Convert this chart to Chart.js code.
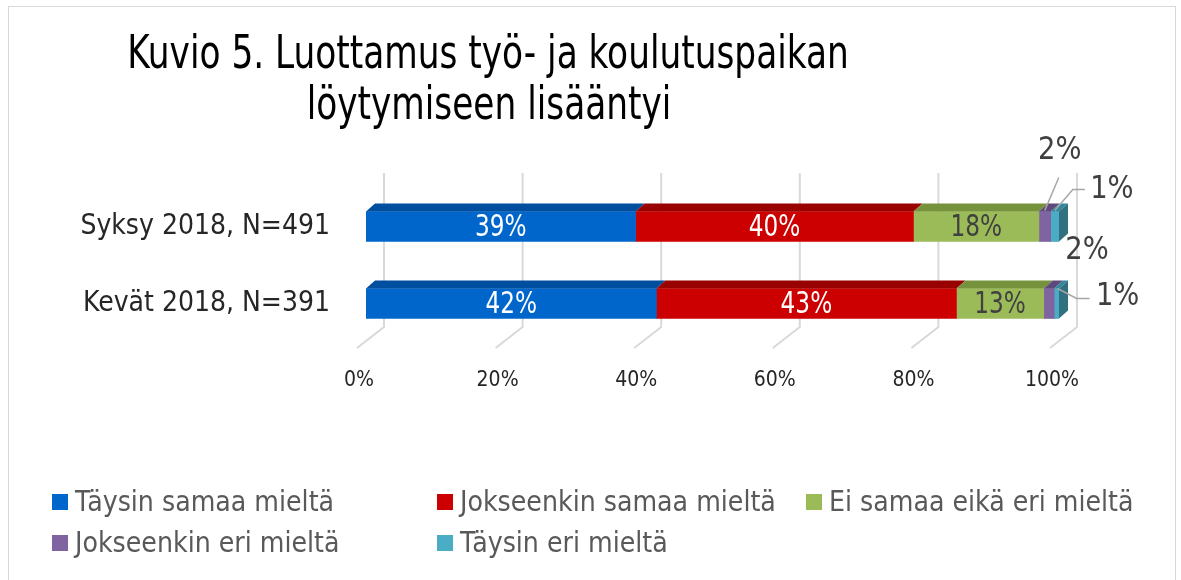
<!DOCTYPE html>
<html>
<head>
<meta charset="utf-8">
<script src="https://cdn.jsdelivr.net/npm/chart.js@4"></script>
<style>
html, body { margin: 0; padding: 0; background: #fff; }
</style>
</head>
<body>
<canvas id="chart" width="1181" height="580"></canvas>
<script>
// data (percent of respondents)
var categories = ['Syksy 2018, N=491', 'Kevät 2018, N=391'];
var seriesNames = ['Täysin samaa mieltä', 'Jokseenkin samaa mieltä', 'Ei samaa eikä eri mieltä', 'Jokseenkin eri mieltä', 'Täysin eri mieltä'];
var taysinSamaa = [38.9, 41.9];
var jokseenkinSamaa = [40.1, 43.3];
var eiSamaaEiEri = [18.1, 12.6];
var jokseenkinEri = [1.7, 1.5];
var taysinEri = [1.2, 0.7];
var xTicks = [0, 20, 40, 60, 80, 100];
var titleLines = ['Kuvio 5. Luottamus työ- ja koulutuspaikan', 'löytymiseen lisääntyi'];

var FONT = '"Liberation Sans Narrow", "DejaVu Sans Condensed", sans-serif';
var frontColors = ['#0066cc', '#cc0000', '#9bbb59', '#8064a2', '#4bacc6'];
var topColors = ['#004f9e', '#990000', '#76923c', '#5f497a', '#31859c'];
var sideColor = '#31707f';
var depthX = 9, depthY = 8;

// small segments get their label outside, with a leader line (offsets from segment centre / bar top)
var outside = {
  '3-0': { dx: 15, dy: -61, line: [[0, -1], [14, -34]] },
  '3-1': { dx: 38, dy: -38 },
  '4-0': { dx: 57, dy: -22, line: [[0, -1], [18, -22], [30, -22]] },
  '4-1': { dx: 61, dy: 8, line: [[1, 0], [20, 10], [33, 10]] }
};

// the original font is narrower than what is installed, so squeeze text sideways
function narrowText(ctx, txt, x, y, sx) {
  ctx.save();
  ctx.translate(x, y);
  ctx.scale(sx, 1);
  ctx.fillText(txt, 0, 0);
  ctx.restore();
}

var bar3d = {
  id: 'bar3d',
  beforeDatasetsDraw: function (chart) {
    var ctx = chart.ctx, xs = chart.scales.x, a = chart.chartArea;
    ctx.save();
    ctx.strokeStyle = '#d9d9d9';
    ctx.lineWidth = 2;
    xTicks.forEach(function (v) {
      var px = xs.getPixelForValue(v);
      ctx.beginPath();
      ctx.moveTo(px + 18, a.top - 15);
      ctx.lineTo(px + 18, a.bottom - 15);
      ctx.lineTo(px - 9, a.bottom + 6);
      ctx.stroke();
    });
    ctx.restore();
  },
  afterDatasetsDraw: function (chart) {
    var ctx = chart.ctx;
    var n = chart.data.datasets.length;
    ctx.save();
    for (var d = 0; d < n; d++) {
      var meta = chart.getDatasetMeta(d);
      meta.data.forEach(function (el) {
        var p = el.getProps(['x', 'y', 'base', 'height'], true);
        var top = p.y - p.height / 2, bot = p.y + p.height / 2;
        ctx.fillStyle = topColors[d];
        ctx.beginPath();
        ctx.moveTo(p.base, top);
        ctx.lineTo(p.base + depthX, top - depthY);
        ctx.lineTo(p.x + depthX, top - depthY);
        ctx.lineTo(p.x, top);
        ctx.closePath();
        ctx.fill();
        if (d === n - 1) {
          ctx.fillStyle = sideColor;
          ctx.beginPath();
          ctx.moveTo(p.x, top);
          ctx.lineTo(p.x + depthX, top - depthY);
          ctx.lineTo(p.x + depthX, bot - depthY);
          ctx.lineTo(p.x, bot);
          ctx.closePath();
          ctx.fill();
        }
      });
    }
    // value labels
    ctx.textAlign = 'center';
    ctx.textBaseline = 'middle';
    for (var d2 = 0; d2 < n; d2++) {
      var ds = chart.data.datasets[d2];
      chart.getDatasetMeta(d2).data.forEach(function (el, i) {
        var p = el.getProps(['x', 'y', 'base', 'height'], true);
        var txt = Math.round(ds.data[i]) + '%';
        var cx = (p.base + p.x) / 2;
        var top = p.y - p.height / 2;
        var o = outside[d2 + '-' + i];
        if (!o) {
          ctx.font = '30px ' + FONT;
          ctx.fillStyle = d2 === 2 ? '#404040' : '#ffffff';
          narrowText(ctx, txt, cx, p.y + 2, 0.86);
          return;
        }
        if (o.line) {
          ctx.strokeStyle = '#a6a6a6';
          ctx.lineWidth = 1.5;
          ctx.beginPath();
          o.line.forEach(function (pt, k) {
            if (k === 0) ctx.moveTo(cx + pt[0], top + pt[1]);
            else ctx.lineTo(cx + pt[0], top + pt[1]);
          });
          ctx.stroke();
        }
        ctx.font = '32px ' + FONT;
        ctx.fillStyle = '#404040';
        narrowText(ctx, txt, cx + o.dx, top + o.dy, 0.95);
      });
    }
    ctx.restore();
  }
};

var decor = {
  id: 'decor',
  afterDraw: function (chart) {
    var ctx = chart.ctx;
    ctx.save();
    // frame
    ctx.strokeStyle = '#d9d9d9';
    ctx.lineWidth = 1;
    ctx.strokeRect(8.5, 6.5, 1167, 600);
    // title
    ctx.fillStyle = '#000000';
    ctx.font = '46px ' + FONT;
    ctx.textAlign = 'center';
    ctx.textBaseline = 'alphabetic';
    narrowText(ctx, titleLines[0], 488, 68, 0.83);
    narrowText(ctx, titleLines[1], 489, 119, 0.83);
    // legend in a fixed grid
    var colX = [52, 437, 806], rowY = [502, 543];
    ctx.font = '29px ' + FONT;
    ctx.textAlign = 'left';
    ctx.textBaseline = 'middle';
    chart.data.datasets.forEach(function (ds, k) {
      var x = colX[k % 3], y = rowY[Math.floor(k / 3)];
      ctx.fillStyle = ds.backgroundColor;
      ctx.fillRect(x, y - 8, 16, 16);
      ctx.fillStyle = '#595959';
      narrowText(ctx, ds.label, x + 23, y + 1, 0.97);
    });
    ctx.restore();
  }
};

var seriesData = [taysinSamaa, jokseenkinSamaa, eiSamaaEiEri, jokseenkinEri, taysinEri];

new Chart(document.getElementById('chart'), {
  type: 'bar',
  data: {
    labels: categories,
    datasets: seriesNames.map(function (name, k) {
      return {
        label: name,
        data: seriesData[k],
        backgroundColor: frontColors[k],
        borderWidth: 0,
        barThickness: 30
      };
    })
  },
  options: {
    indexAxis: 'y',
    responsive: false,
    animation: false,
    layout: { padding: { top: 188, right: 122, left: 0, bottom: 0 } },
    plugins: {
      legend: { display: false },
      tooltip: { enabled: false },
      title: { display: false }
    },
    scales: {
      x: {
        stacked: true,
        min: 0,
        max: 100,
        afterBuildTicks: function (scale) {
          scale.ticks = xTicks.map(function (v) { return { value: v }; });
        },
        afterFit: function (scale) { scale.height = 238; },
        grid: { display: false, drawTicks: false },
        border: { display: false },
        ticks: {
          padding: 26,
          labelOffset: -7,
          color: '#262626',
          font: { family: FONT, size: 21 },
          callback: function (v) { return v + '%'; }
        }
      },
      y: {
        stacked: true,
        afterFit: function (scale) { scale.width = 366; },
        grid: { display: false, drawTicks: false },
        border: { display: false },
        ticks: {
          padding: 36,
          color: '#262626',
          font: { family: FONT, size: 28 }
        }
      }
    }
  },
  plugins: [bar3d, decor]
});
</script>
</body>
</html>
